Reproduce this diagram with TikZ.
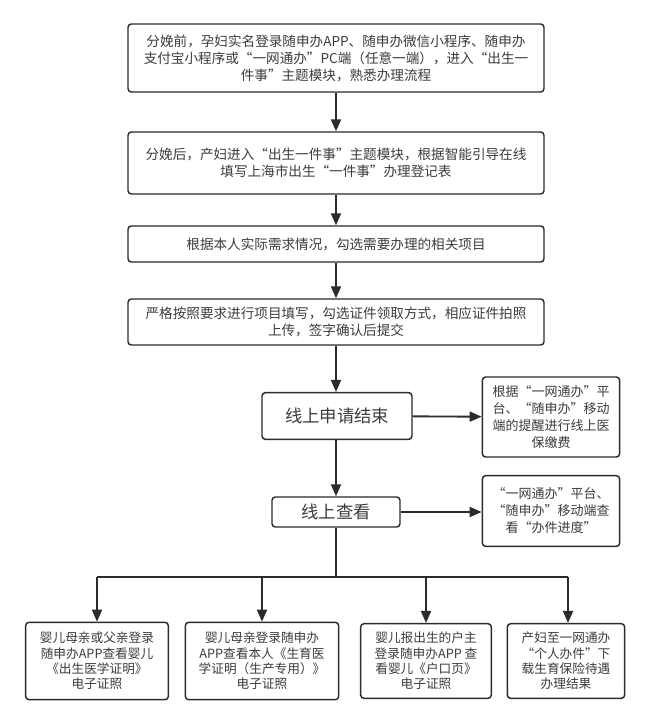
\documentclass[tikz,border=0pt]{standalone}
\usepackage{fontspec}
\setmainfont{Noto Sans CJK SC}
\usetikzlibrary{arrows.meta}

\definecolor{linec}{HTML}{2B2B2B}
\definecolor{textc}{HTML}{3C3C3C}

\begin{document}
\begin{tikzpicture}[x=0.75pt,y=-0.75pt,
    box/.style={draw=linec,line width=1.1pt,rounded corners=2.5pt,align=center,inner sep=0pt,
                text=textc,font=\fontsize{10.2}{12.75}\selectfont},
    side/.style={font=\fontsize{9.75}{12.75}\selectfont},
    small/.style={font=\fontsize{9.5}{11.5}\selectfont},
    big/.style={font=\fontsize{13}{15}\selectfont},
    arr/.style={draw=linec,line width=1.4pt,-{Triangle[length=9pt,width=7.5pt]}}]

            \useasboundingbox[fill=white] (0,0) rectangle (650,725);

            \path   (336,58)  node (pre)  [box,minimum width=312pt,minimum height=51pt]
                        {分娩前，孕妇实名登录随申办APP、随申办微信小程序、随申办\\
                         支付宝小程序或“一网通办”PC端（任意一端），进入“出生一\\
                         件事”主题模块，熟悉办理流程}
                    (336,163) node (post) [box,minimum width=312pt,minimum height=46.5pt]
                        {分娩后，产妇进入“出生一件事”主题模块，根据智能引导在线\\
                         填写上海市出生“一件事”办理登记表}
                    (336,244) node (pick) [box,minimum width=312pt,minimum height=27pt]
                        {根据本人实际需求情况，勾选需要办理的相关项目}
                    (336,322) node (fill) [box,minimum width=312pt,minimum height=34.5pt]
                        {严格按照要求进行项目填写，勾选证件领取方式，相应证件拍照\\
                         上传，签字确认后提交}
                    (337,416) node (done) [box,big,minimum width=112.5pt,minimum height=35pt]
                        {线上申请结束}
                    (336,512) node (view) [box,big,minimum width=96pt,minimum height=22.5pt]
                        {线上查看}
                    (551,417) node (fee)  [box,side,minimum width=103pt,minimum height=60pt]
                        {根据“一网通办”平\\台、“随申办”移动\\端的提醒进行线上医\\保缴费}
                    (551,511) node (prog) [box,side,minimum width=103pt,minimum height=53pt]
                        {“一网通办”平台、\\“随申办”移动端查\\看“办件进度”};

            \path   (97,661)  node (ma) [box,small,minimum width=107pt,minimum height=58pt]
                        {婴儿母亲或父亲登录\\随申办APP查看婴儿\\《出生医学证明》\\电子证照}
                    (262,661) node (mb) [box,small,minimum width=115pt,minimum height=58pt]
                        {婴儿母亲登录随申办\\APP查看本人《生育医\\学证明（生产专用）》\\电子证照}
                    (426,661) node (mc) [box,small,minimum width=98pt,minimum height=56pt]
                        {婴儿报出生的户主\\登录随申办APP 查\\看婴儿《户口页》\\电子证照}
                    (566,661) node (md) [box,small,minimum width=88pt,minimum height=56pt]
                        {产妇至一网通办\\“个人办件”下\\载生育保险待遇\\办理结果};

            \coordinate (busl) at (97,577);
            \coordinate (busr) at (568,577);
            \coordinate (busm) at (336,577);

            \draw[arr] (pre)  -- (post);
            \draw[arr] (post) -- (pick);
            \draw[arr] (pick) -- (fill);
            \draw[arr] (fill.south) -- (done.north -| fill.south);
            \draw[arr] (done.south -| view.north) -- (view.north);
            \draw[arr] (done) -- (fee);
            \draw[arr] (view) -- (prog.west |- view);

            \draw[draw=linec,line width=1.4pt] (view.south) -- (busm);
            \draw[draw=linec,line width=1.4pt] (busl) -- (busr);
            \draw[arr] (busl) -- (ma.north);
            \draw[arr] (mb.north |- busl) -- (mb.north);
            \draw[arr] (mc.north |- busl) -- (mc.north);
            \draw[arr] (busr) -- (busr |- md.north);
\end{tikzpicture}
\end{document}
